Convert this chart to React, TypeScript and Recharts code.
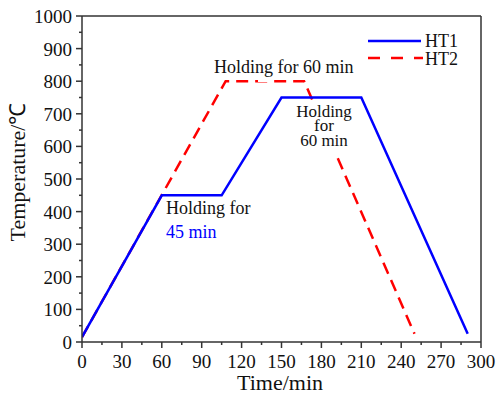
import React from 'react';
import {
  LineChart,
  Line,
  XAxis,
  YAxis,
  ReferenceLine,
} from 'recharts';

// time (min) / temperature (°C)
const ht1Time = [0, 60, 105, 150, 210, 290];
const ht1Temp = [15, 450, 450, 750, 750, 25];
const ht2Time = [0, 108, 167, 250];
const ht2Temp = [15, 800, 800, 25];

const xTicks = [0, 15, 30, 45, 60, 75, 90, 105, 120, 135, 150, 165, 180, 195, 210, 225, 240, 255, 270, 285, 300];
const yTicks = [0, 50, 100, 150, 200, 250, 300, 350, 400, 450, 500, 550, 600, 650, 700, 750, 800, 850, 900, 950, 1000];

const ht1 = ht1Time.map((t, i) => ({ t, v: ht1Temp[i] }));
const ht2 = ht2Time.map((t, i) => ({ t, v: ht2Temp[i] }));

const FONT = '"Liberation Serif", "Times New Roman", serif';
const AXIS = '#333';

const XTick = (props: any) => {
  const { x, y, payload } = props;
  const major = payload.value % 30 === 0;
  return (
    <g>
      <line x1={x} y1={y} x2={x} y2={y + (major ? 6 : 3)} stroke={AXIS} strokeWidth={1.5} />
      {major && (
        <text x={x} y={y + 26} textAnchor="middle" fontSize={19} fontFamily={FONT} fill="#111">
          {payload.value}
        </text>
      )}
    </g>
  );
};

const YTick = (props: any) => {
  const { x, y, payload } = props;
  const major = payload.value % 100 === 0;
  return (
    <g>
      <line x1={x} y1={y} x2={x - (major ? 6 : 3)} y2={y} stroke={AXIS} strokeWidth={1.5} />
      {major && (
        <text x={x - 10} y={y + 7} textAnchor="end" fontSize={19} fontFamily={FONT} fill="#111">
          {payload.value}
        </text>
      )}
    </g>
  );
};

export default function App() {
  return (
    <div style={{ position: 'absolute', left: 0, top: 0, width: 497, height: 396, background: '#fff' }}>
      <LineChart width={497} height={396} margin={{ top: 16, right: 16, bottom: 0, left: 0 }}>
        <XAxis
          dataKey="t"
          type="number"
          domain={[0, 300]}
          ticks={xTicks}
          interval={0}
          height={54}
          tickSize={0}
          tickMargin={0}
          tickLine={false}
          tick={<XTick />}
          axisLine={{ stroke: AXIS, strokeWidth: 1.5 }}
          allowDataOverflow
        />
        <YAxis
          type="number"
          domain={[0, 1000]}
          ticks={yTicks}
          interval={0}
          width={82}
          tickSize={0}
          tickMargin={0}
          tickLine={false}
          tick={<YTick />}
          axisLine={{ stroke: AXIS, strokeWidth: 1.5 }}
          allowDataOverflow
        />
        <ReferenceLine y={1000} stroke={AXIS} strokeWidth={1.5} ifOverflow="visible" />
        <ReferenceLine x={300} stroke={AXIS} strokeWidth={1.5} ifOverflow="visible" />
        <Line data={ht2} dataKey="v" name="HT2" stroke="#ff0000" strokeWidth={2.5} strokeDasharray="12 7" dot={false} isAnimationActive={false} />
        <Line data={ht1} dataKey="v" name="HT1" stroke="#0000ff" strokeWidth={2.5} dot={false} isAnimationActive={false} />
      </LineChart>
      <svg width={497} height={396} style={{ position: 'absolute', left: 0, top: 0, pointerEvents: 'none' }}>
        <g fontFamily={FONT} fill="#111">
          <line x1={368} y1={41} x2={421} y2={41} stroke="#0000ff" strokeWidth={2.5} />
          <text x={425} y={47} fontSize={18}>HT1</text>
          <line x1={368} y1={58} x2={423} y2={58} stroke="#ff0000" strokeWidth={2.5} strokeDasharray="12 11" />
          <text x={425} y={65} fontSize={18}>HT2</text>
          <rect x={258} y={77} width={14} height={5} fill="#fff" />
          <text x={214} y={73} fontSize={18}>Holding for 60 min</text>
          <rect x={295} y={100} width={58} height={54} fill="#fff" />
          <text x={324} y={117} fontSize={17} textAnchor="middle">Holding</text>
          <text x={324} y={131} fontSize={17} textAnchor="middle">for</text>
          <text x={324} y={146} fontSize={17} textAnchor="middle">60 min</text>
          <text x={166} y={214} fontSize={18}>Holding for</text>
          <text x={166} y={238} fontSize={18} fill="#0000ff">45 min</text>
          <text x={280} y={390} fontSize={22} textAnchor="middle">Time/min</text>
          <text x={0} y={0} fontSize={22} textAnchor="middle" transform="translate(25 172) rotate(-90)">Temperature/℃</text>
        </g>
      </svg>
    </div>
  );
}
